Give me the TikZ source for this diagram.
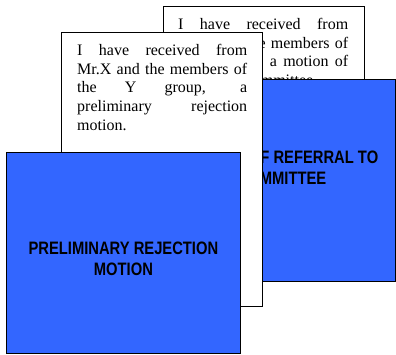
\documentclass[tikz,border=0pt]{standalone}
\usepackage{fontspec}
\setmainfont{Liberation Serif}
\newfontfamily\capsfont{Liberation Sans}[FakeStretch=0.82]
\usepackage{xcolor}
\definecolor{cardblue}{RGB}{51,102,255}
\tikzset{
  card/.style={draw=black, line width=0.8pt, anchor=north west, inner sep=0pt},
  whitecard/.style={card, fill=white},
  bluecard/.style={card, fill=cardblue},
  lettertext/.style={anchor=north west, inner sep=0pt, text width=170pt, align=justify,
    font=\fontsize{16}{18.7}\selectfont},
  titletext/.style={inner sep=0pt, align=center,
    font=\capsfont\bfseries\fontsize{18}{21.5}\selectfont}
}
\begin{document}
\begin{tikzpicture}[x=1pt, y=-1pt]
        \useasboundingbox (0,0) rectangle (396,354);
        % back pair
        \node[whitecard, minimum width=201pt, minimum height=110pt](backnote) at (163,6) {};
        \node[lettertext](backletter) at (178,18) {\hyphenpenalty=10000 I have received from \linebreak Mr.X and the members of \linebreak the Y group, a motion of \linebreak referral to committee.};
        \node[bluecard, minimum width=135pt, minimum height=202pt](backslide) at (260,79) {};
        \node[titletext](backtitle) at (282,168) {MOTION OF REFERRAL TO\\COMMITTEE};
        % front pair
        \node[whitecard, minimum width=201pt, minimum height=274pt](frontnote) at (61,32) {};
        \node[lettertext](frontletter) at (77,44) {\hyphenpenalty=10000 I have received from \linebreak Mr.X and the members of \linebreak the Y group, a \linebreak preliminary rejection \linebreak motion.};
        \node[bluecard, minimum width=234pt, minimum height=201pt](frontslide) at (6,152) {};
        \node[titletext](fronttitle) at (frontslide.center) [yshift=-6pt] {PRELIMINARY REJECTION\\MOTION};
\end{tikzpicture}
\end{document}
